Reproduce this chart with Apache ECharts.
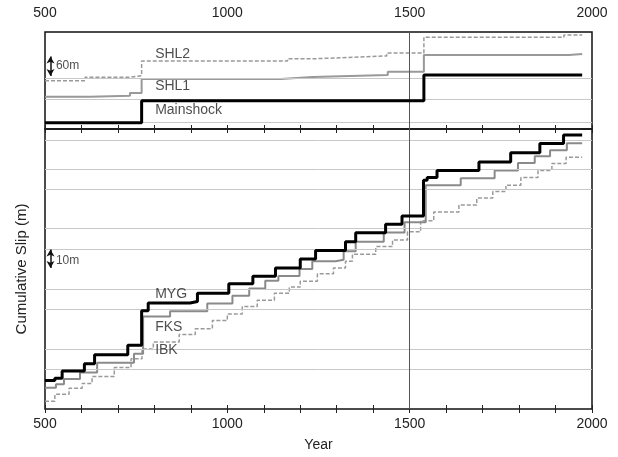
<!DOCTYPE html>
<html><head><meta charset="utf-8">
<script src="https://cdn.jsdelivr.net/npm/echarts@6/dist/echarts.min.js"></script>
<style>html,body{margin:0;padding:0;background:#fff}#c{width:618px;height:457px}</style>
</head><body><div id="c"></div>
<script>
// ---- data ----
const endYear = 1973;
const xTicks = [500, 1000, 1500, 2000];
const mainshockYears = [500, 765, 1539];
const mainshockSlip = [19, 87, 167];
const shl1Years = [500, 624, 733, 765, 1146, 1234, 1440, 1539, 1937];
const shl1Slip = [100, 103, 111, 155, 161, 167, 177, 229, 232];
const shl2Years = [500, 610, 731, 765, 1165, 1228, 1332, 1437, 1539, 1923];
const shl2Slip = [149, 160, 165, 210, 217, 221, 226, 235, 284, 291];
const mygYears = [500,527,547,608,636,727,765,783,898,918,1004,1070,1132,1200,1242,1324,1352,1434,1479,1538,1548,1575,1690,1777,1857,1922];
const mygSlip = [15.3,16.5,20.4,24.3,29.0,34.2,52.7,56.8,57.6,62.0,67.1,71.1,75.5,80.3,84.9,89.6,94.4,99.0,103.4,122.5,124.0,127.8,132.3,137.3,142.2,146.8];
const fksYears = [500,530,552,596,643,744,769,843,945,1014,1060,1104,1140,1198,1233,1297,1319,1352,1429,1486,1544,1640,1733,1797,1843,1885,1931];
const fksSlip = [11.4,13.2,16.1,19.5,24.8,29.6,49.6,52.3,56.5,60.7,64.6,68.7,71.3,75.0,79.2,79.9,84.5,89.6,94.5,100.0,119.9,123.6,127.8,131.8,135.4,138.6,142.4];
const ibkYears = [500,527,566,602,629,690,736,766,797,868,912,959,1000,1041,1082,1129,1170,1200,1247,1291,1324,1343,1407,1453,1494,1530,1566,1635,1684,1728,1764,1805,1852,1890,1929];
const ibkSlip = [4.2,7.9,11.1,13.7,17.4,22.2,26.9,32.2,35.9,39.9,43.0,47.4,50.9,54.9,58.3,62.0,65.3,68.5,72.4,75.5,79.2,82.9,87.0,90.5,94.9,100.9,105.5,109.3,113.0,116.5,119.9,124.0,127.8,131.5,134.9];
const topGridLevels = [21.7, 92.8, 157.7];
const bottomGridLevels = [21.1, 32.2, 53.3, 63.9, 85.6, 96.7, 117.8, 128.3, 144.2];
const topLabels = ['SHL2', 'SHL1', 'Mainshock'];
const bottomLabels = ['MYG', 'FKS', 'IBK'];

// ---- build ----
function steps(years, vals) {
  return years.map((y, i) => [y, vals[i]]).concat([[endYear, vals[vals.length - 1]]]);
}
const FONT = "'Liberation Sans', Arial, sans-serif";
const chart = echarts.init(document.getElementById('c'), null, {renderer: 'canvas'});

function xAx(grid, pos, showLabels, extra) {
  return Object.assign({
    type: 'value', gridIndex: grid, position: pos, min: xTicks[0], max: xTicks[xTicks.length - 1],
    interval: xTicks[1] - xTicks[0],
    axisLine: {show: false},
    axisTick: {show: true, inside: true, length: 4, lineStyle: {color: '#222', width: 1}},
    minorTick: {show: true, splitNumber: 5, length: 4, lineStyle: {color: '#222', width: 1}},
    splitLine: {show: false},
    axisLabel: {show: showLabels, fontSize: 14, color: '#222', fontFamily: FONT, margin: pos === 'top' ? 12 : 8,
      showMinLabel: true, showMaxLabel: true, formatter: v => String(v)}
  }, extra || {});
}

const gridLineStyle = {color: '#c8c8c8', width: 1, type: 'solid'};
const vline = {color: '#555', width: 1, type: 'solid'};

function lineSeries(name, xi, yi, data, color, width, dashed, z) {
  return {
    name, type: 'line', xAxisIndex: xi, yAxisIndex: yi, data, step: 'end',
    symbol: 'none', showSymbol: false, z,
    lineStyle: {color, width, type: dashed ? [4, 2] : 'solid'}
  };
}

const option = {
  animation: false,
  backgroundColor: '#fff',
  textStyle: {fontFamily: FONT},
  grid: [
    {left: 45, right: 26, top: 32, height: 97, show: true, borderColor: '#111', borderWidth: 1.5, backgroundColor: 'transparent'},
    {left: 45, right: 26, top: 129, bottom: 44, show: true, borderColor: '#111', borderWidth: 1.5, backgroundColor: 'transparent'}
  ],
  xAxis: [
    xAx(0, 'top', true),
    xAx(0, 'bottom', false),
    xAx(1, 'top', false),
    xAx(1, 'bottom', true, {name: 'Year', nameLocation: 'middle', nameGap: 29,
      nameTextStyle: {fontSize: 14, color: '#222', fontFamily: FONT}})
  ],
  yAxis: [
    {type: 'value', gridIndex: 0, min: 0, max: 300, axisLine: {show: false}, axisTick: {show: false},
      axisLabel: {show: false}, splitLine: {show: false}},
    {type: 'value', gridIndex: 1, min: 0, max: 150, axisLine: {show: false}, axisTick: {show: false},
      axisLabel: {show: false}, splitLine: {show: false},
      name: 'Cumulative Slip (m)', nameLocation: 'middle', nameGap: 16,
      nameTextStyle: {fontSize: 15, color: '#222', fontFamily: FONT}}
  ],
  series: [
    // helper series: reference lines (below curves)
    {type: 'line', xAxisIndex: 0, yAxisIndex: 0, data: [[500, 0]], symbol: 'none', lineStyle: {opacity: 0}, z: 1,
      markLine: {silent: true, symbol: 'none', label: {show: false}, animation: false,
        data: topGridLevels.map(v => ({yAxis: v, lineStyle: gridLineStyle})).concat([{xAxis: 1500, lineStyle: vline}])}},
    {type: 'line', xAxisIndex: 3, yAxisIndex: 1, data: [[500, 0]], symbol: 'none', lineStyle: {opacity: 0}, z: 1,
      markLine: {silent: true, symbol: 'none', label: {show: false}, animation: false,
        data: bottomGridLevels.map(v => ({yAxis: v, lineStyle: gridLineStyle})).concat([{xAxis: 1500, lineStyle: vline}])}},
    lineSeries('SHL2', 0, 0, steps(shl2Years, shl2Slip), '#999', 1.5, true, 3),
    lineSeries('SHL1', 0, 0, steps(shl1Years, shl1Slip), '#999', 2, false, 4),
    lineSeries('Mainshock', 0, 0, steps(mainshockYears, mainshockSlip), '#000', 3, false, 5),
    lineSeries('IBK', 3, 1, steps(ibkYears, ibkSlip), '#9a9a9a', 1.5, true, 3),
    lineSeries('FKS', 3, 1, steps(fksYears, fksSlip), '#8a8a8a', 2, false, 4),
    lineSeries('MYG', 3, 1, steps(mygYears, mygSlip), '#000', 3, false, 5),
    // text annotations + scale bars (top panel)
    {type: 'scatter', xAxisIndex: 0, yAxisIndex: 0, symbolSize: 0, z: 6, silent: true,
      data: [
        {name: topLabels[0], value: [802, 232]},
        {name: topLabels[1], value: [802, 133]},
        {name: topLabels[2], value: [802, 58]},
        {name: '60m', value: [530, 196], label: {fontSize: 12}}
      ],
      label: {show: true, position: 'right', distance: 0, formatter: '{b}', fontSize: 14, color: '#222', fontFamily: FONT},
      markLine: {silent: true, symbol: ['arrow', 'arrow'], symbolSize: [6, 7], label: {show: false},
        lineStyle: {color: '#111', width: 1.5, type: 'solid'},
        data: [[{coord: [515, 164]}, {coord: [515, 224]}]]}},
    // text annotations + scale bars (bottom panel)
    {type: 'scatter', xAxisIndex: 3, yAxisIndex: 1, symbolSize: 0, z: 6, silent: true,
      data: [
        {name: bottomLabels[0], value: [802, 61.3]},
        {name: bottomLabels[1], value: [802, 43.8]},
        {name: bottomLabels[2], value: [802, 31.7]},
        {name: '10m', value: [530, 79.5], label: {fontSize: 12}}
      ],
      label: {show: true, position: 'right', distance: 0, formatter: '{b}', fontSize: 14, color: '#222', fontFamily: FONT},
      markLine: {silent: true, symbol: ['arrow', 'arrow'], symbolSize: [6, 7], label: {show: false},
        lineStyle: {color: '#111', width: 1.5, type: 'solid'},
        data: [[{coord: [515, 75.5]}, {coord: [515, 85.5]}]]}}
  ]
};
chart.setOption(option);
</script>
</body></html>
